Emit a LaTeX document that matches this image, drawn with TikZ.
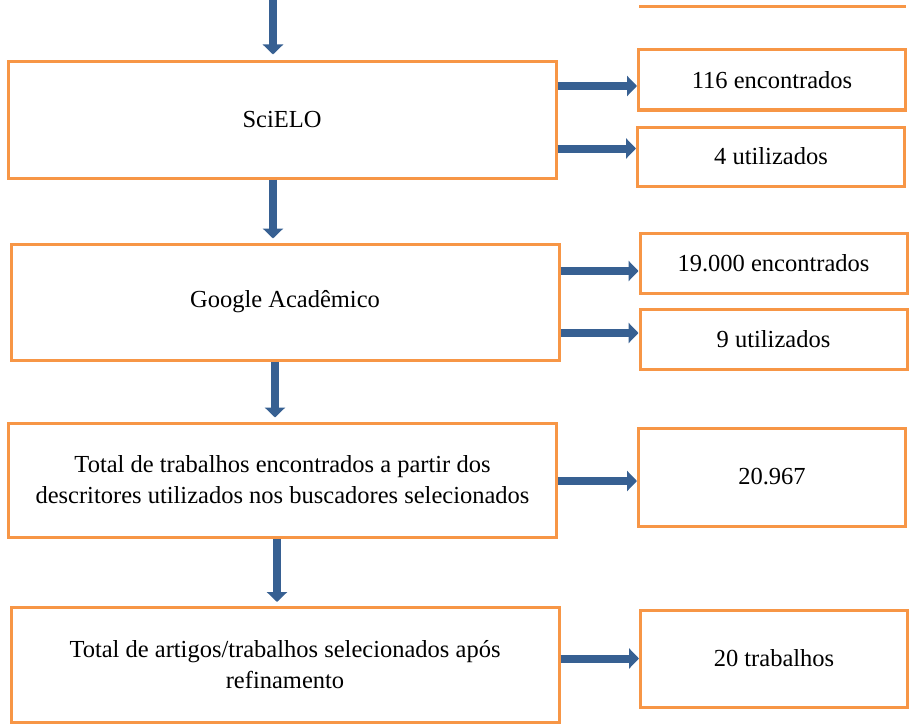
\documentclass[tikz,border=0pt]{standalone}
\usepackage{fontspec}
\setmainfont{Liberation Serif}
\usetikzlibrary{arrows.meta}
\definecolor{laranja}{RGB}{247,150,70}
\definecolor{azul}{RGB}{55,96,146}

\begin{document}
\begin{tikzpicture}[x=1pt, y=-1pt,
	caixa/.style={draw=laranja, line width=3pt, minimum width=548pt, minimum height=116pt, align=center, font=\fontsize{24.5}{31}\selectfont, inner sep=0pt},
	info/.style={draw=laranja, line width=3pt, minimum width=267pt, minimum height=60pt, align=center, font=\fontsize{24.5}{31}\selectfont, inner sep=0pt},
	seta/.style={draw=azul, line width=8pt, -{Triangle[length=10pt, width=20pt]}}]
	\useasboundingbox (0,0) rectangle (911,725);

	% coluna da esquerda
	\node[caixa] (scielo) at (282,120) {SciELO};
	\node[caixa] (google) at (285,302) {Google Acadêmico};
	\node[caixa, minimum height=114pt] (total) at (282.5,480) {Total de trabalhos encontrados a partir dos\\descritores utilizados nos buscadores selecionados};
	\node[caixa, minimum height=115pt] (final) at (285,665) {Total de artigos/trabalhos selecionados após\\refinamento};

	% coluna da direita
	\node[info] (enc1) at (772,80) {116 encontrados};
	\node[info, minimum height=59pt] (util1) at (771,156.5) {4 utilizados};
	\node[info] (enc2) at (773.5,263) {19.000 encontrados};
	\node[info] (util2) at (773.5,339) {9 utilizados};
	\node[info, minimum height=98pt] (num) at (772,477) {20.967};
	\node[info, minimum height=97pt] (trab) at (774,658.5) {20 trabalhos};

	\coordinate (topo) at (273,0);
	\draw[draw=laranja, line width=3pt] (639,7) -- (906,7);

	\draw[seta, shorten >=6pt] (topo) -- (topo |- scielo.north);
	\draw[seta, shorten >=4pt] (273,0 |- scielo.south) -- (273,0 |- google.north);
	\draw[seta, shorten >=4pt] (275,0 |- google.south) -- (275,0 |- total.north);
	\draw[seta, shorten >=4pt] (277,0 |- total.south) -- (277,0 |- final.north);

	\foreach \a/\b/\dy in {scielo/enc1/6, scielo/util1/-8, google/enc2/8, google/util2/-6, total/num/4, final/trab/0}
		\draw[seta] ([yshift=-\dy pt]\a.east |- \b.west) -- ([yshift=-\dy pt]\b.west);
\end{tikzpicture}
\end{document}
